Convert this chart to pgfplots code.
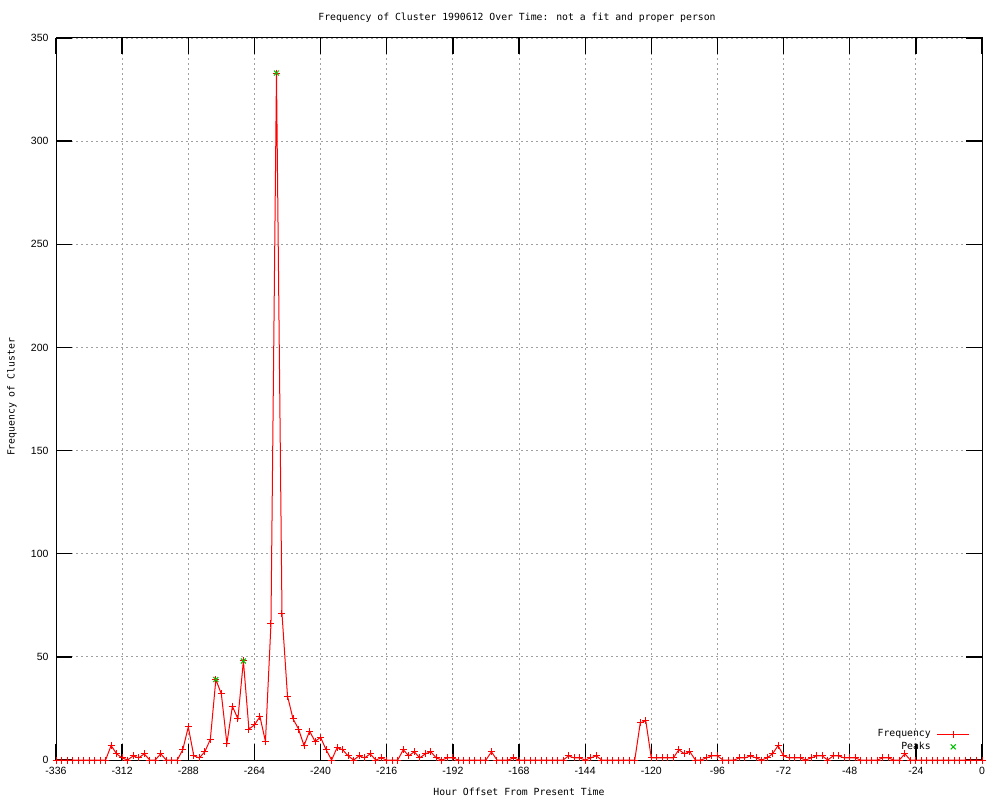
\documentclass[border=0pt]{standalone}
\usepackage{fontspec}
\setmainfont{Liberation Sans}
\newfontfamily\gpmono{DejaVu Sans Mono}
\usepackage{pgfplots}
\pgfplotsset{compat=1.18}
\definecolor{gpred}{RGB}{255,0,0}
\definecolor{gpgreen}{RGB}{0,192,0}
\definecolor{gpgrid}{RGB}{160,160,160}
\begin{document}
\begin{tikzpicture}
\useasboundingbox (0pt,0pt) rectangle (1000pt,800pt);
\begin{axis}[
  at={(56pt,40pt)}, anchor=south west,
  scale only axis, width=926pt, height=722pt,
  xmin=-336, xmax=0, ymin=0, ymax=350,
  xtick={-336,-312,...,0}, ytick={0,50,...,350},
  axis line style={black, line width=1pt},
  tick align=inside,
  major tick length=16pt,
  every tick/.style={black, line width=1.3pt},
  xtick pos=both, ytick pos=both,
  xmajorgrids, ymajorgrids,
  major grid style={gpgrid, line width=0.8pt, dash pattern=on 2pt off 3pt},
  /pgf/number format/assume math mode=true,
  /pgf/number format/1000 sep={},
  tick label style={font=\fontsize{10.5}{12}\selectfont},
  xticklabel style={yshift=-4pt},
  yticklabel style={xshift=-4pt},
  clip=false,
  legend cell align=right,
  legend style={legend plot pos=right, draw=none, fill=none,
    at={(rel axis cs:0.987,0.009)}, anchor=south east,
    font=\gpmono\fontsize{9.8}{12}\selectfont, row sep=0pt, column sep=4pt,
    inner sep=0pt},
  legend image code/.code={\draw[mark repeat=2,mark phase=2,#1] plot coordinates {(0pt,0pt) (16pt,0pt) (32pt,0pt)};},
]
\addplot[gpred, line width=1pt, mark=+, mark size=3.5pt, mark options={line width=1pt}] coordinates {
(-336,0)(-334,0)(-332,0)(-330,0)(-328,0)(-326,0)(-324,0)(-322,0)(-320,0)(-318,0)
(-316,7)(-314,3)(-312,1)(-310,0)(-308,2)(-306,1)(-304,3)(-302,0)(-300,0)(-298,3)
(-296,0)(-294,0)(-292,0)(-290,5)(-288,16)(-286,2)(-284,1)(-282,4)(-280,10)(-278,39)
(-276,32)(-274,8)(-272,26)(-270,20)(-268,48)(-266,15)(-264,17)(-262,21)(-260,9)(-258,66)
(-256,333)(-254,71)(-252,31)(-250,20)(-248,15)(-246,7)(-244,14)(-242,9)(-240,11)(-238,5)
(-236,0)(-234,6)(-232,5)(-230,2)(-228,0)(-226,2)(-224,1)(-222,3)(-220,0)(-218,1)
(-216,0)(-214,0)(-212,0)(-210,5)(-208,2)(-206,4)(-204,1)(-202,3)(-200,4)(-198,1)
(-196,0)(-194,1)(-192,1)(-190,0)(-188,0)(-186,0)(-184,0)(-182,0)(-180,0)(-178,4)
(-176,0)(-174,0)(-172,0)(-170,1)(-168,0)(-166,0)(-164,0)(-162,0)(-160,0)(-158,0)
(-156,0)(-154,0)(-152,0)(-150,2)(-148,1)(-146,1)(-144,0)(-142,1)(-140,2)(-138,0)
(-136,0)(-134,0)(-132,0)(-130,0)(-128,0)(-126,0)(-124,18)(-122,19)(-120,1)(-118,1)
(-116,1)(-114,1)(-112,1)(-110,5)(-108,3)(-106,4)(-104,0)(-102,0)(-100,1)(-98,2)
(-96,2)(-94,0)(-92,0)(-90,0)(-88,1)(-86,1)(-84,2)(-82,1)(-80,0)(-78,1)
(-76,3)(-74,7)(-72,2)(-70,1)(-68,1)(-66,1)(-64,0)(-62,1)(-60,2)(-58,2)
(-56,0)(-54,2)(-52,2)(-50,1)(-48,1)(-46,1)(-44,0)(-42,0)(-40,0)(-38,0)
(-36,1)(-34,1)(-32,0)(-30,0)(-28,3)(-26,0)(-24,0)(-22,0)(-20,0)(-18,0)
(-16,0)(-14,0)(-12,0)(-10,0)(-8,0)(-6,0)(-4,0)(-2,0)(0,0)
};
\addlegendentry{Frequency}
\addplot[gpgreen, only marks, mark=x, mark size=3.5pt, mark options={line width=1pt}] coordinates {
(-256,333)(-278,39)(-268,48)
};
\addlegendentry{Peaks}
\end{axis}
\node[font=\gpmono\fontsize{9.8}{12}\selectfont] at (517pt,782pt) {Frequency of Cluster 1990612 Over Time: not a fit and proper person};
\node[font=\gpmono\fontsize{9.8}{12}\selectfont] at (519pt,8pt) {Hour Offset From Present Time};
\node[font=\gpmono\fontsize{9.8}{12}\selectfont, rotate=90] at (12pt,403pt) {Frequency of Cluster};
\end{tikzpicture}
\end{document}
